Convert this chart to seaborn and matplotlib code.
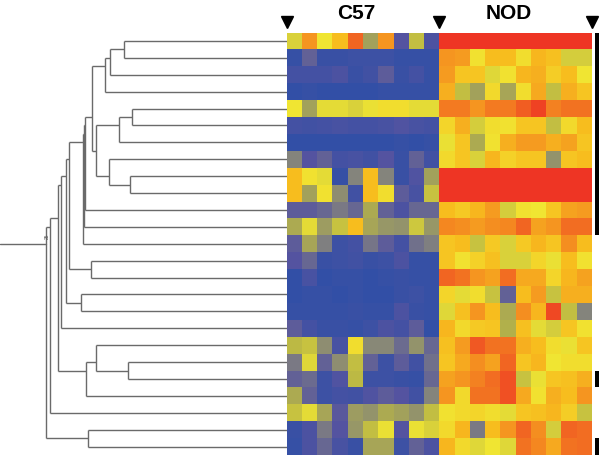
import numpy as np
import pandas as pd
import matplotlib
matplotlib.use("Agg")
import matplotlib.pyplot as plt
from matplotlib.colors import LinearSegmentedColormap
import seaborn as sns

# ---------------- data ----------------
groups = ["C57", "NOD"]
n_per_group = 10

# expression levels (0 = low/blue ... 7 = high/red), rows top->bottom
c57 = [
    [3.6, 5.6, 4.0, 5.0, 6.3, 2.6, 5.6, 1.0, 3.2, 0.8],
    [0.2, 1.3, 0.3, 0.3, 0.4, 0.4, 0.4, 0.2, 0.2, 0.2],
    [0.6, 0.6, 0.6, 0.8, 0.3, 0.5, 1.2, 0.3, 0.6, 0.2],
    [0.1, 0.2, 0.1, 0.1, 0.1, 0.1, 0.2, 0.2, 0.2, 0.2],
    [4.0, 2.6, 3.8, 3.8, 3.6, 3.9, 4.2, 4.2, 3.8, 3.8],
    [0.6, 0.5, 0.6, 0.7, 0.6, 0.6, 0.7, 0.9, 0.7, 0.6],
    [0.1, 0.1, 0.1, 0.1, 0.1, 0.1, 0.1, 0.2, 0.1, 0.2],
    [2.0, 1.0, 1.3, 0.6, 0.7, 0.5, 1.0, 0.3, 1.3, 0.5],
    [5.0, 4.1, 3.8, 0.2, 2.0, 5.0, 2.0, 0.3, 0.9, 2.6],
    [5.0, 2.6, 4.1, 2.2, 0.5, 5.0, 4.2, 1.2, 0.7, 3.3],
    [1.2, 1.2, 1.4, 1.8, 1.4, 2.8, 1.3, 0.8, 1.4, 1.4],
    [2.8, 3.8, 2.5, 3.3, 5.0, 2.7, 2.4, 2.3, 3.4, 2.4],
    [1.2, 2.7, 1.9, 0.4, 0.6, 1.7, 1.2, 0.6, 1.6, 1.9],
    [1.0, 1.4, 0.3, 0.4, 0.5, 0.3, 0.4, 0.8, 0.2, 0.2],
    [0.1, 0.7, 0.1, 0.2, 0.2, 0.1, 0.2, 0.3, 0.2, 0.2],
    [0.1, 0.2, 0.2, 0.1, 0.2, 0.1, 0.1, 0.3, 0.4, 0.2],
    [0.2, 0.2, 0.2, 0.2, 0.3, 0.2, 0.2, 0.8, 0.3, 0.2],
    [1.2, 0.6, 0.3, 0.3, 0.2, 0.4, 0.8, 0.6, 1.2, 0.1],
    [3.1, 3.3, 2.2, 0.7, 4.2, 2.1, 2.1, 1.5, 2.3, 1.4],
    [1.8, 3.7, 1.3, 2.2, 3.2, 1.3, 0.4, 1.2, 0.5, 1.6],
    [1.3, 1.5, 0.4, 0.9, 3.1, 0.4, 0.4, 0.3, 0.2, 1.4],
    [2.8, 1.3, 0.4, 0.6, 0.5, 0.9, 1.2, 1.0, 0.5, 2.0],
    [3.3, 3.8, 2.7, 1.1, 2.5, 2.3, 2.8, 2.6, 2.3, 3.2],
    [0.3, 0.8, 1.8, 1.0, 2.4, 3.2, 3.9, 1.0, 3.9, 3.6],
    [0.2, 0.8, 1.4, 0.7, 0.3, 2.7, 2.7, 0.4, 1.3, 0.8],
]
nod = [
    [7.0, 7.0, 7.0, 7.0, 7.0, 7.0, 7.0, 7.0, 7.0, 7.0],
    [5.6, 5.5, 4.1, 5.0, 5.0, 4.2, 5.1, 4.9, 3.5, 3.5],
    [5.5, 4.8, 4.8, 3.7, 4.1, 5.1, 5.2, 4.6, 5.0, 4.0],
    [5.2, 3.2, 2.6, 4.3, 2.7, 4.2, 5.3, 3.2, 5.2, 4.8],
    [6.0, 6.0, 5.6, 6.0, 6.0, 6.4, 6.8, 5.9, 6.1, 6.1],
    [4.4, 5.2, 3.5, 4.2, 4.1, 4.8, 4.8, 3.2, 4.3, 5.0],
    [3.9, 4.8, 2.8, 4.1, 5.2, 5.5, 5.5, 5.2, 5.4, 4.8],
    [4.3, 4.8, 3.6, 5.1, 4.5, 4.8, 4.8, 2.3, 4.8, 5.0],
    [7.0, 7.0, 7.0, 7.0, 7.0, 7.0, 7.0, 7.0, 7.0, 7.0],
    [7.0, 7.0, 7.0, 7.0, 7.0, 7.0, 7.0, 7.0, 7.0, 7.0],
    [5.0, 4.7, 5.1, 5.5, 3.5, 4.1, 4.0, 4.8, 5.4, 5.5],
    [5.8, 5.7, 5.5, 5.7, 5.8, 6.3, 5.4, 5.6, 6.2, 6.2],
    [4.8, 5.0, 3.3, 4.7, 3.6, 4.7, 5.1, 4.8, 5.7, 5.0],
    [4.8, 4.1, 4.5, 4.9, 3.6, 3.6, 4.4, 3.9, 5.0, 4.1],
    [6.3, 6.1, 5.6, 5.4, 6.2, 5.3, 5.3, 4.4, 5.1, 5.4],
    [4.4, 3.8, 4.2, 3.3, 1.3, 5.0, 5.5, 3.3, 5.2, 5.2],
    [3.7, 4.9, 5.6, 5.0, 2.8, 5.7, 5.1, 6.7, 3.2, 2.0],
    [5.1, 4.3, 4.7, 4.8, 2.9, 4.9, 3.8, 3.5, 4.8, 4.1],
    [4.9, 5.5, 6.5, 6.1, 6.1, 5.2, 5.0, 4.2, 3.9, 4.8],
    [4.8, 5.3, 5.7, 5.4, 6.3, 4.8, 5.1, 4.0, 4.2, 4.2],
    [5.4, 5.6, 5.9, 6.2, 6.6, 3.3, 3.9, 4.8, 4.9, 5.2],
    [5.6, 4.3, 6.1, 6.1, 6.6, 5.3, 4.1, 5.2, 5.0, 5.6],
    [4.1, 4.3, 4.4, 4.2, 3.8, 4.8, 4.9, 5.1, 4.6, 3.3],
    [4.3, 5.1, 1.8, 5.0, 5.6, 6.3, 5.7, 3.5, 6.3, 6.2],
    [5.1, 4.3, 3.7, 4.0, 3.7, 6.1, 5.8, 5.3, 6.1, 6.2],
]

# rows flagged with a black bar at the right side
row_flags = [1] * 12 + [0] * 8 + [1] + [0] * 3 + [1]

# hierarchical clustering: (child_a, child_b, merge distance); leaves 0..24, new ids from 25
merges = [
    (0, 1, 162.7), (25, 2, 176.7), (26, 3, 181.7),
    (4, 5, 155.0), (28, 6, 167.7),
    (8, 9, 157.2), (7, 30, 177.4),
    (29, 31, 191.0), (27, 32, 194.4),
    (33, 10, 201.7), (34, 11, 202.7), (35, 12, 204.0),
    (13, 14, 196.0), (36, 37, 217.4),
    (15, 16, 206.0), (38, 39, 220.5),
    (40, 17, 225.7),
    (19, 20, 158.4), (18, 42, 191.0), (43, 21, 200.7),
    (41, 44, 229.0), (45, 22, 236.7),
    (23, 24, 198.4), (46, 47, 240.7),
]
root_extent = 286.7

# ---------------- figure ----------------
W, H = 600, 458
fig = plt.figure(figsize=(W / 100, H / 100), dpi=100)
sns.set_style("white")
plt.rcParams["font.family"] = ["Liberation Sans", "DejaVu Sans"]

top_px, bot_px = 32.5, 455.0
hm_l, hm_r = 286.7, 592.0
def fx(px):
    return px / W
def fy(px):
    return 1 - px / H

ax_hm = fig.add_axes([fx(hm_l), fy(bot_px), fx(hm_r - hm_l), (bot_px - top_px) / H])
ax_dg = fig.add_axes([0, fy(bot_px), fx(hm_l), (bot_px - top_px) / H])
ax_bar = fig.add_axes([fx(594.5), fy(bot_px), fx(4.8), (bot_px - top_px) / H])

cols = [f"{g}_{i+1}" for g in groups for i in range(n_per_group)]
data = pd.DataFrame(np.hstack([np.array(c57), np.array(nod)]), columns=cols)

cmap = LinearSegmentedColormap.from_list(
    "expr",
    [(0 / 7, "#2f4fa6"), (1 / 7, "#5453a0"), (2 / 7, "#84847c"),
     (3 / 7, "#b6b446"), (4 / 7, "#f0e532"), (5 / 7, "#f7bd1e"),
     (6 / 7, "#f37b21"), (7 / 7, "#ee3524")])

sns.heatmap(data, ax=ax_hm, cmap=cmap, vmin=0, vmax=7, cbar=False,
            xticklabels=False, yticklabels=False, linewidths=0)
ax_hm.set_xlabel("")
ax_hm.set_ylabel("")

# group labels and triangles
nrows = data.shape[0]
ncols = data.shape[1]
for gi, g in enumerate(groups):
    xc = gi * n_per_group + n_per_group / 2 - 0.45
    ax_hm.text(xc, -1.12, g, ha="center", va="center", fontsize=15,
               fontweight="bold", color="black", clip_on=False)
tri_x = [0, n_per_group, ncols]
ax_hm.plot(tri_x, [-0.62] * len(tri_x), linestyle="none", marker="v",
           markersize=8, color="black", clip_on=False)

# dendrogram
n = nrows
members = {i: [i] for i in range(n)}
ypos = {i: i + 0.5 for i in range(n)}
height = {i: 0.0 for i in range(n)}
lc = "#6a6a6a"
for k, (a, b, h) in enumerate(merges):
    nid = n + k
    members[nid] = members[a] + members[b]
    ypos[nid] = np.mean([ypos[m] for m in members[nid]])
    height[nid] = h
    ax_dg.plot([h, h], [ypos[a], ypos[b]], color=lc, lw=1.0, solid_capstyle="butt")
    for c in (a, b):
        ax_dg.plot([height[c], h], [ypos[c], ypos[c]], color=lc, lw=1.0,
                   solid_capstyle="butt")
root = n + len(merges) - 1
ax_dg.plot([height[root], root_extent], [ypos[root], ypos[root]], color=lc, lw=1.0)
ax_dg.text(height[root] - 1.5, ypos[root] - 0.45, "25", fontsize=3.5, rotation=90,
           ha="center", va="center", color="#555555")
ax_dg.set_xlim(root_extent, 0)
ax_dg.set_ylim(n, 0)
ax_dg.axis("off")

# right side bars
rows_idx = np.arange(n)
ax_bar.barh(rows_idx + 0.5, np.array(row_flags), height=1.0, color="black",
            linewidth=0)
ax_bar.set_xlim(0, 1)
ax_bar.set_ylim(n, 0)
ax_bar.axis("off")

fig.savefig("out.png", dpi=100, facecolor="white")
